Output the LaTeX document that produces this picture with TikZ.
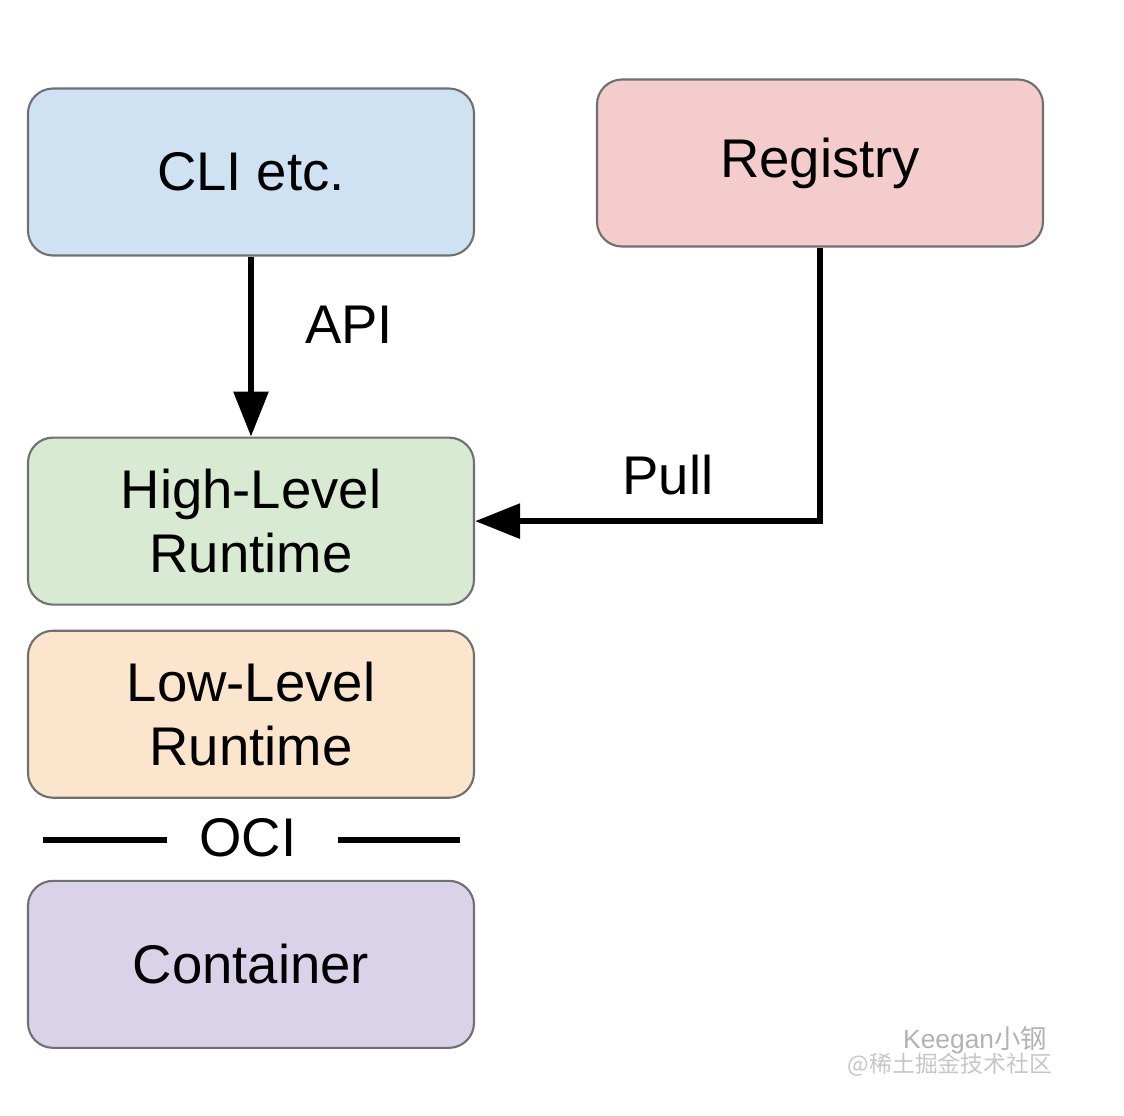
\documentclass[tikz,border=0pt]{standalone}
\usepackage{fontspec}
\setmainfont{Liberation Sans}
\newfontfamily\cjk{Noto Sans CJK SC}
\usetikzlibrary{arrows.meta,positioning}
\definecolor{cliblue}{HTML}{CFE2F3}
\definecolor{regred}{HTML}{F4CCCC}
\definecolor{highgreen}{HTML}{D9EAD3}
\definecolor{loworange}{HTML}{FCE5CD}
\definecolor{ctrpurple}{HTML}{D9D2E9}
\definecolor{boxline}{HTML}{707070}

\begin{document}
\begin{tikzpicture}[every node/.style={font=\fontsize{31}{36.5}\selectfont}, layer/.style={draw=boxline, line width=1.2pt, rounded corners=0.5cm, align=center, minimum width=8.92cm, minimum height=3.34cm}, arrow/.style={-{Triangle[length=0.9cm, width=0.68cm]}, line width=3.4pt}, rule/.style={line width=3.2pt}]
\useasboundingbox (0,0) rectangle (22.48,-22.3);
\node[layer, fill=cliblue] (cli) at (5.02,-3.44) {CLI etc.};
\node[layer, fill=regred] (registry) at (16.4,-3.26) {Registry};
\node[layer, fill=highgreen, below=3.6cm of cli] (high) {High-Level\\Runtime};
\node[layer, fill=loworange, below=0.48cm of high] (low) {Low-Level\\Runtime};
\node[layer, fill=ctrpurple, below=1.62cm of low] (container) {Container};
\node (oci) at (4.96,-16.76) {OCI};
\coordinate (ocil) at (0.86,-16.8);
\coordinate (ocir) at (9.2,-16.8);
\node (api) at (6.98,-6.5) {API};
\node (pull) at (13.36,-9.5) {Pull};
\coordinate (bend) at (registry.south |- high.east);
\draw[arrow] (cli)--(high);
\draw[arrow] (registry.south)--(bend)--(high.east);
\draw[rule] (ocil)--(ocil -| 3.34,0);
\draw[rule] (ocir -| 6.76,0)--(ocir);
\node[text=gray!60, font=\fontsize{15}{15}\selectfont] (author) at (19.5,-20.8) {Keegan{\cjk 小钢}};
\node[text=gray!45, font=\fontsize{13}{13}\selectfont] (site) at (19.0,-21.3) {\cjk @稀土掘金技术社区};
\end{tikzpicture}
\end{document}
